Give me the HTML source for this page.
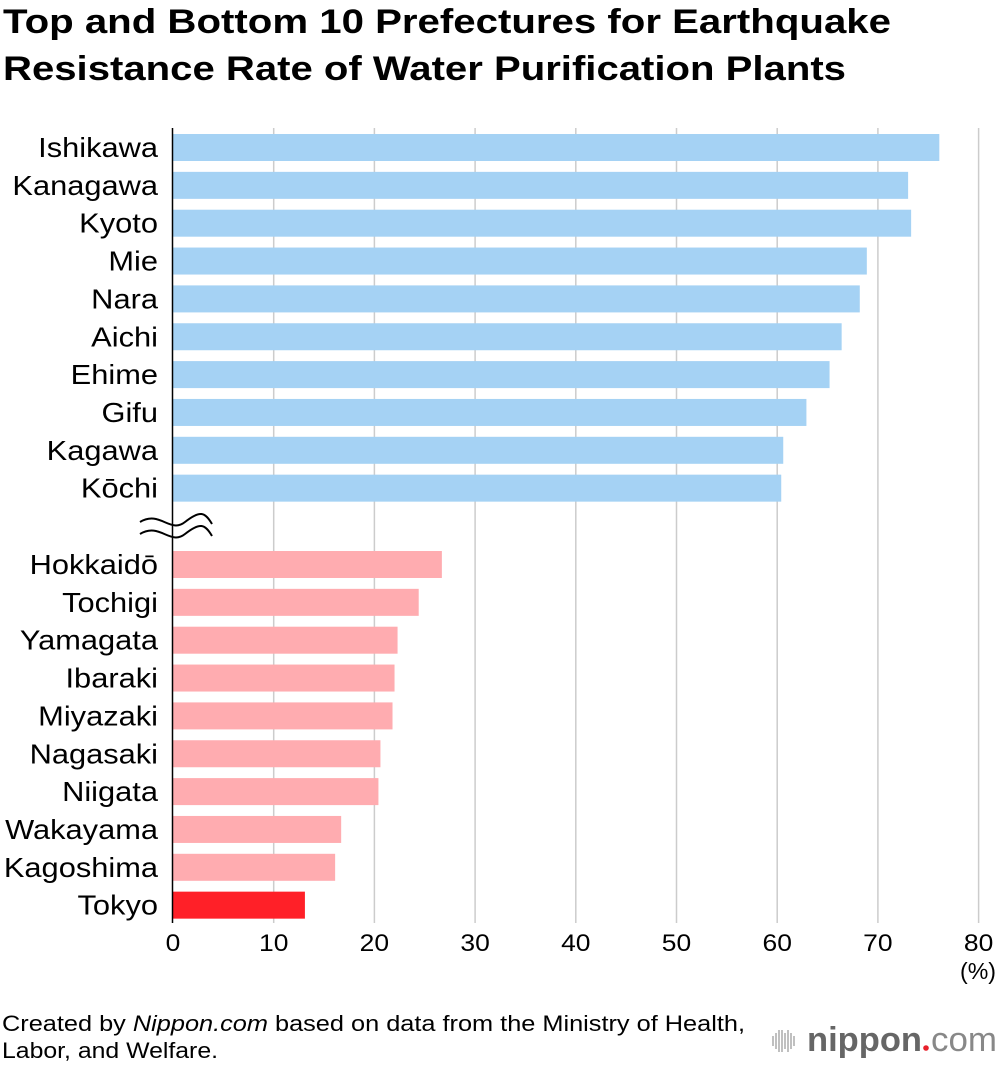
<!DOCTYPE html>
<html><head><meta charset="utf-8">
<style>
html,body{margin:0;padding:0;background:#fff;}
body{width:1000px;height:1066px;overflow:hidden;font-family:"Liberation Sans",Arial,sans-serif;}
svg text{font-family:"Liberation Sans",Arial,sans-serif;}
</style></head>
<body>
<svg id="chart" width="1000" height="1066" xmlns="http://www.w3.org/2000/svg">
<text x="3" y="33" font-size="34" font-weight="bold" textLength="888" lengthAdjust="spacingAndGlyphs">Top and Bottom 10 Prefectures for Earthquake</text>
<text x="3" y="80" font-size="34" font-weight="bold" textLength="843" lengthAdjust="spacingAndGlyphs">Resistance Rate of Water Purification Plants</text>
<g id="grid"></g><g id="bars"></g><g id="labels"></g><g id="ticks"></g>
<g>
<path d="M140 522 C160 510,175 510,185 522 S205 534,212 524 L212 536 C205 546,195 546,185 534 S160 522,140 534 Z" fill="#fff"/>
<path d="M140 522 C160 510,170 534,185 522 S205 512,212 524" fill="none" stroke="#000" stroke-width="2"/>
<path d="M140 534 C160 522,170 546,185 534 S205 524,212 536" fill="none" stroke="#000" stroke-width="2"/>
</g>
<line x1="172.5" y1="128" x2="172.5" y2="923" stroke="#000" stroke-width="1.5"/>
<text x="996" y="979" font-size="23" text-anchor="end" textLength="36" lengthAdjust="spacingAndGlyphs">(%)</text>
<text x="2" y="1031" font-size="22" textLength="743" lengthAdjust="spacingAndGlyphs">Created by <tspan font-style="italic">Nippon.com</tspan> based on data from the Ministry of Health,</text>
<text x="2" y="1058" font-size="22" textLength="216" lengthAdjust="spacingAndGlyphs">Labor, and Welfare.</text>
<g>
<g stroke="#aaa" stroke-width="1.5">
<line x1="773" y1="1036" x2="773" y2="1046"/><line x1="776" y1="1033" x2="776" y2="1049"/><line x1="779" y1="1030" x2="779" y2="1052"/><line x1="782" y1="1030" x2="782" y2="1052"/><line x1="785" y1="1033" x2="785" y2="1049"/><line x1="788" y1="1030" x2="788" y2="1052"/><line x1="791" y1="1033" x2="791" y2="1049"/><line x1="794" y1="1036" x2="794" y2="1046"/>
</g>
<text x="807" y="1051" font-size="34" font-weight="bold" fill="#666" textLength="115" lengthAdjust="spacingAndGlyphs">nippon</text>
<circle cx="926" cy="1048" r="2.8" fill="#e8202a"/>
<text x="931" y="1051" font-size="34" fill="#888" textLength="66" lengthAdjust="spacingAndGlyphs">com</text>
</g>
</svg>
<script>
const topNames=["Ishikawa","Kanagawa","Kyoto","Mie","Nara","Aichi","Ehime","Gifu","Kagawa","Kōchi"];
const topValues=[76.1,73.0,73.3,68.9,68.2,66.4,65.2,62.9,60.6,60.4];
const bottomNames=["Hokkaidō","Tochigi","Yamagata","Ibaraki","Miyazaki","Nagasaki","Niigata","Wakayama","Kagoshima","Tokyo"];
const bottomValues=[26.7,24.4,22.3,22.0,21.8,20.6,20.4,16.7,16.1,13.1];
const ticks=[0,10,20,30,40,50,60,70,80];
const NS="http://www.w3.org/2000/svg";
const x0=173,pxPer=10.07;
const xs=v=>x0+v*pxPer;
function mk(tag,attrs,parent){const e=document.createElementNS(NS,tag);for(const k in attrs)e.setAttribute(k,attrs[k]);document.getElementById(parent).appendChild(e);return e;}
function stretch(t,f){const w=t.getComputedTextLength();t.setAttribute('textLength',(w*f).toFixed(1));t.setAttribute('lengthAdjust','spacingAndGlyphs');}
ticks.forEach(t=>{
  if(t>0){const l=mk('line',{x1:xs(t),x2:xs(t),y1:128,y2:923,stroke:'#ccc','stroke-width':1.5},'grid');
  
  }
  const tx=mk('text',{x:xs(t),y:951,'font-size':24,'text-anchor':'middle'},'ticks');
  tx.textContent=t;
  
  
  stretch(tx,1.1);
});
function drawGroup(names,vals,y0,kind){
  names.forEach((n,i)=>{
    const cy=y0+i*37.85;
    const color=kind==='top'?'#a5d2f4':(n==='Tokyo'?'#ff2028':'#ffacb0');
    const r=mk('rect',{x:x0,y:cy-13.5,width:xs(vals[i])-x0,height:27,fill:color},'bars');
    
    
    const t=mk('text',{x:158,y:cy+9.5,'font-size':27.5,'text-anchor':'end'},'labels');
    t.textContent=n;
    
    
    stretch(t,1.12);
  });
}
drawGroup(topNames,topValues,147.5,'top');
drawGroup(bottomNames,bottomValues,564.5,'bottom');
</script>
</body></html>
